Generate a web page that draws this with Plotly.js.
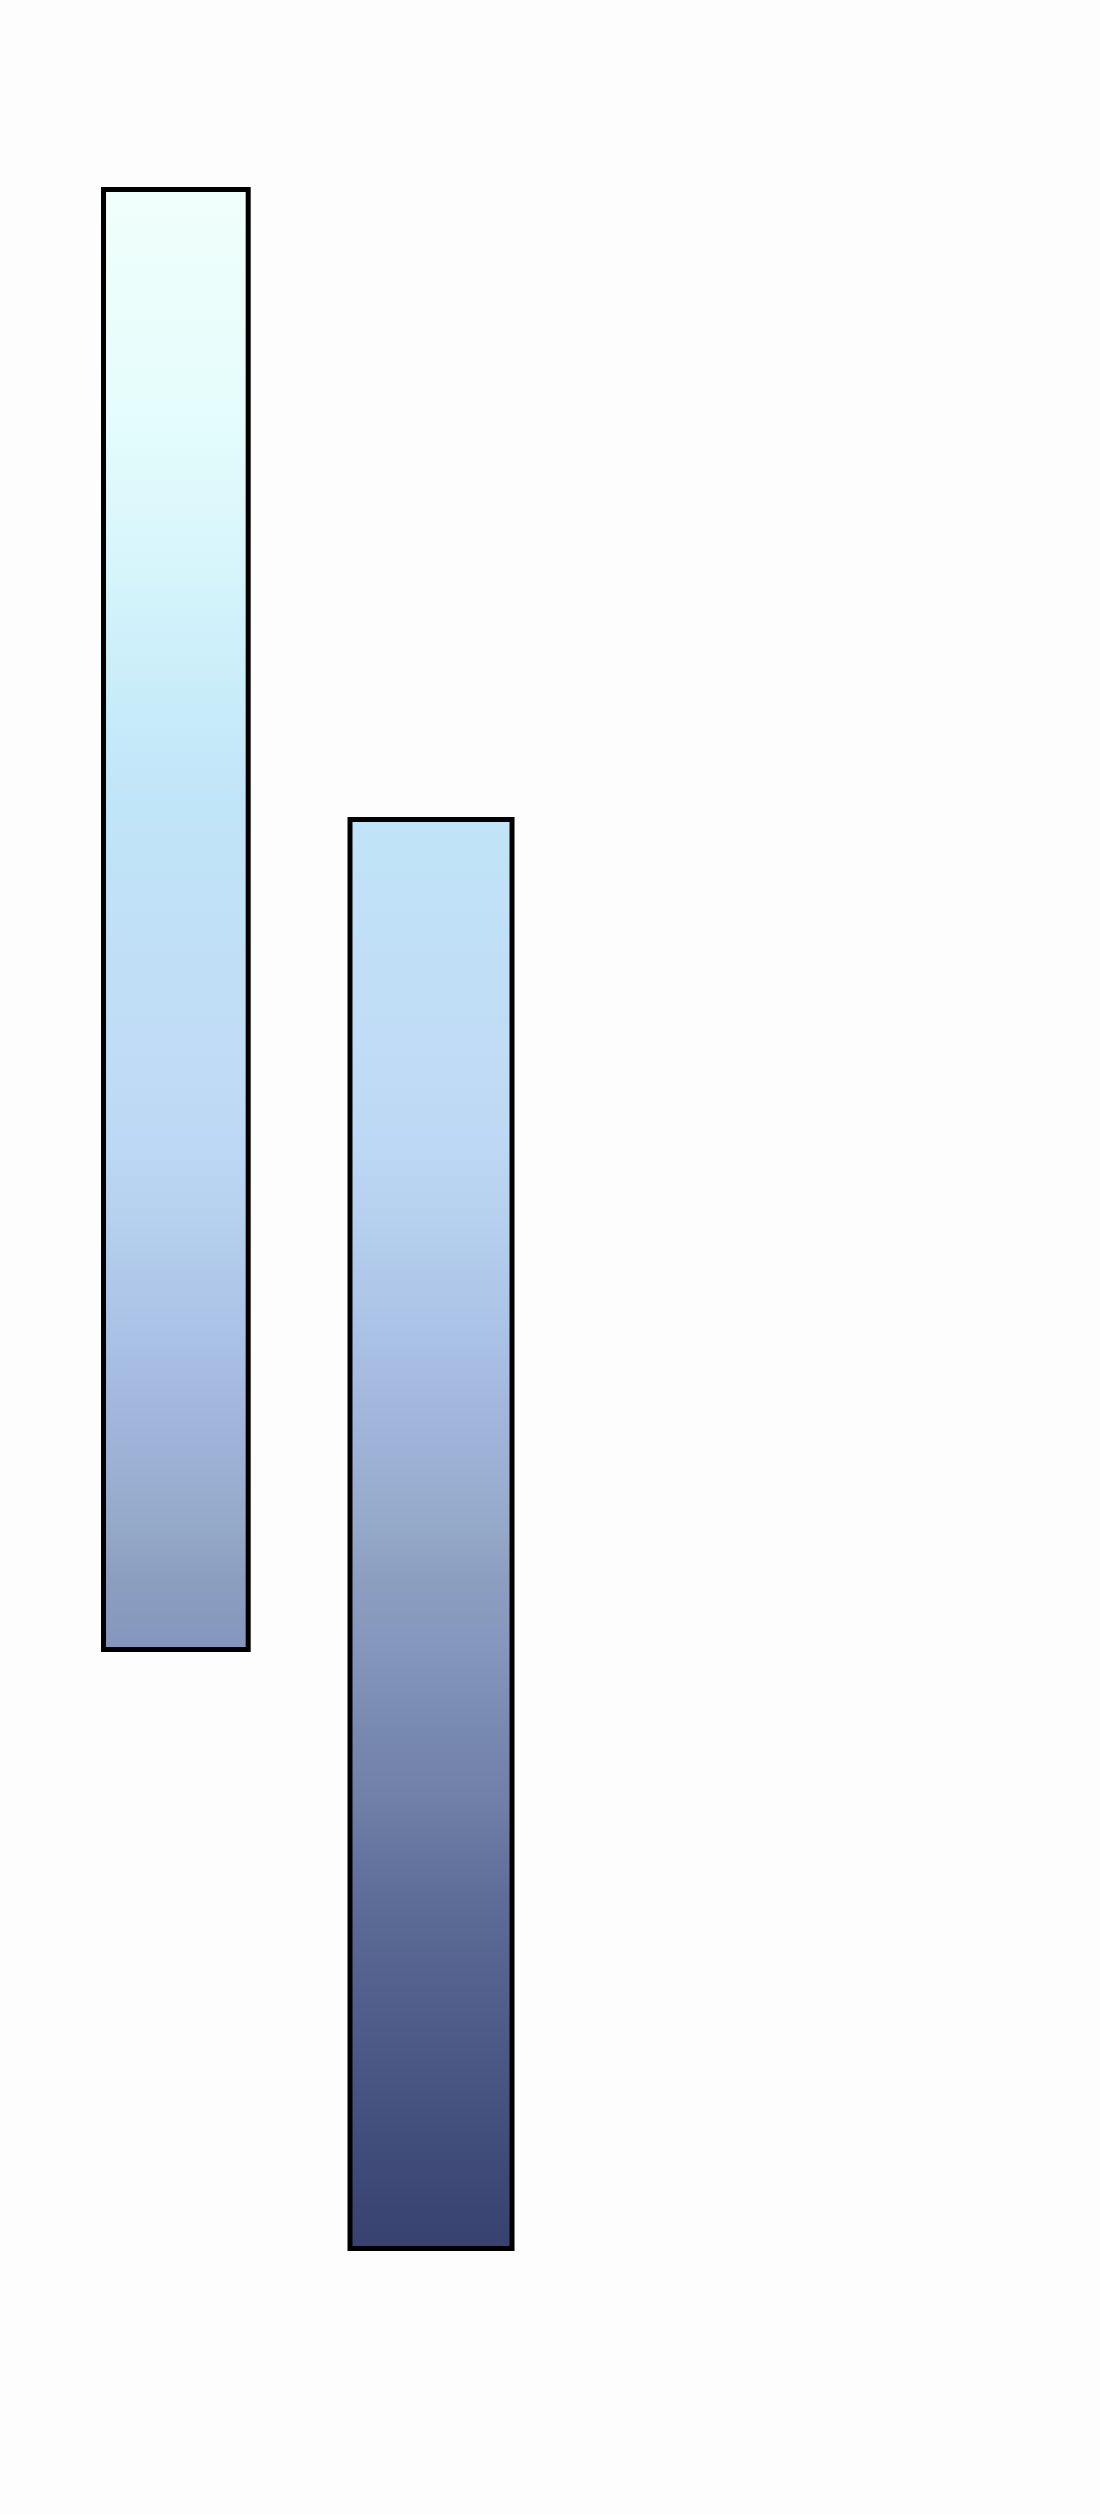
<!DOCTYPE html>
<html>
<head>
<meta charset="utf-8">
<script src="https://cdn.plot.ly/plotly-3.0.1.min.js"></script>
<style>
  html, body { margin: 0; padding: 0; background: #fdfdfd; }
  #chart { width: 1100px; height: 2515px; }
</style>
</head>
<body>
<div id="chart"></div>
<script>
// floating bars: each one spans from low to high
const labels = ['A', 'B'];
const positions = [1, 2];
const lows = [8.655, 2.665];
const highs = [23.255, 16.955];

const barWidths = [0.567, 0.635];

// one vertical gradient shared by both bars, fixed to the y axis
const gradient = {
  type: 'vertical',
  start: 2.65,
  stop: 23.25,
  colorscale: [
    [0.0, '#38416f'],
    [0.049, '#404c7a'],
    [0.097, '#4c5886'],
    [0.17, '#5e6c98'],
    [0.218, '#7080a8'],
    [0.243, '#7686ae'],
    [0.267, '#7c8eb4'],
    [0.291, '#8496bc'],
    [0.325, '#8c9ec0'],
    [0.35, '#94a8c8'],
    [0.379, '#9cb0d4'],
    [0.413, '#a4b8de'],
    [0.437, '#a8c0e4'],
    [0.461, '#aec6e8'],
    [0.485, '#b2ccec'],
    [0.51, '#b8d2f0'],
    [0.534, '#bcd8f4'],
    [0.583, '#c0dcf6'],
    [0.694, '#c0e4f8'],
    [0.752, '#c8ecf9'],
    [0.825, '#d8f6fb'],
    [0.898, '#e6fdfc'],
    [1.0, '#f0fffb']
  ]
};

const fills = labels.map((label, i) => {
  const x0 = positions[i] - barWidths[i] / 2;
  const x1 = positions[i] + barWidths[i] / 2;
  return {
    type: 'scatter',
    mode: 'lines',
    name: label,
    x: [x0, x0, x1, x1, x0],
    y: [lows[i], highs[i], highs[i], lows[i], lows[i]],
    fill: 'toself',
    fillgradient: gradient,
    line: { width: 0 },
    hoverinfo: 'skip'
  };
});

// outlines live on an overlaying subplot so they sit above the fills
const outlines = {
  type: 'bar',
  x: positions,
  y: highs.map((h, i) => h - lows[i]),
  base: lows,
  width: barWidths,
  text: labels,
  textposition: 'none',
  xaxis: 'x2',
  yaxis: 'y2',
  marker: { color: 'rgba(0,0,0,0)', line: { color: '#000000', width: 5 } }
};

const xRange = [0.3108, 4.6219];
const yRange = [0, 25.15];

const layout = {
  width: 1100,
  height: 2515,
  margin: { l: 0, r: 0, t: 0, b: 0 },
  paper_bgcolor: '#fdfdfd',
  plot_bgcolor: '#fdfdfd',
  showlegend: false,
  xaxis: { range: xRange, visible: false, fixedrange: true },
  yaxis: { range: yRange, visible: false, fixedrange: true },
  xaxis2: { range: xRange, visible: false, fixedrange: true, overlaying: 'x' },
  yaxis2: { range: yRange, visible: false, fixedrange: true, overlaying: 'y' }
};

Plotly.newPlot('chart', [...fills, outlines], layout, { displayModeBar: false, staticPlot: true });
</script>
</body>
</html>
